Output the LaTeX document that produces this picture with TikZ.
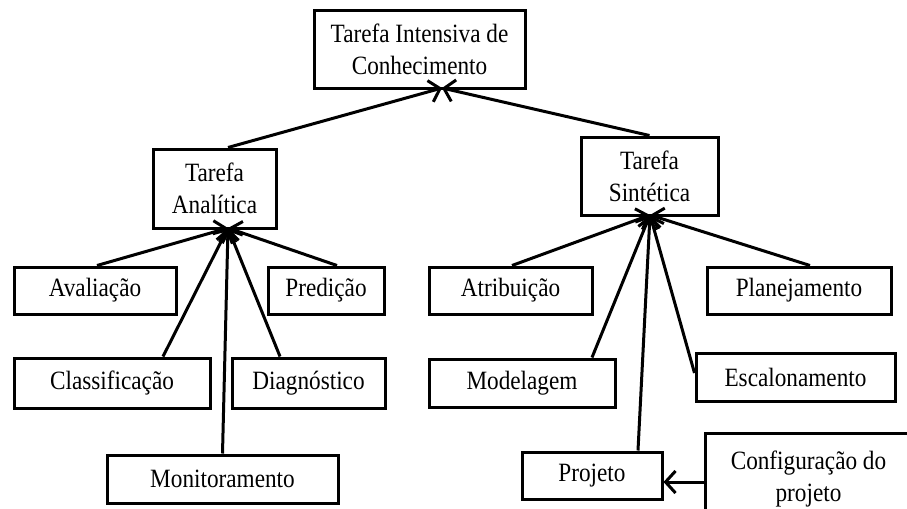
\documentclass[tikz,border=0pt]{standalone}
\usepackage{fontspec}
\setmainfont[FakeStretch=0.88]{Liberation Serif}
\usetikzlibrary{arrows.meta}
\begin{document}
\begin{tikzpicture}[x=0.5pt,y=-0.5pt,
    box/.style={draw, line width=1.5pt, inner sep=0pt, align=center,
      font=\fontsize{13.2}{16}\selectfont},
    arr/.style={line width=1.5pt, -{Straight Barb[length=5pt,width=11pt]}}]
    \clip (0,0) rectangle (907,509);
    %Top
    \node[box, minimum width=105.5pt, minimum height=39pt] (tarefa) at (419.5,49) {Tarefa Intensiva de\\Conhecimento};
    \coordinate (tarefaIn) at (442,88);
    %Analytic
    \node[box, minimum width=61.5pt, minimum height=39.5pt] (analitica) at (214.5,188.5) {Tarefa\\Analítica};
    \coordinate (analiticaIn) at (228,228);
    \node[box, minimum width=81pt, minimum height=23.5pt] (avaliacao) at (95,290.5) {Avaliação};
    \node[box, minimum width=58pt, minimum height=23.5pt] (predicao) at (326,290.5) {Predição};
    \node[box, minimum width=98pt, minimum height=25pt] (classificacao) at (112,383) {Classificação};
    \node[box, minimum width=76.5pt, minimum height=25pt] (diagnostico) at (308.5,383) {Diagnóstico};
    \node[box, minimum width=115.5pt, minimum height=24pt] (monitoramento) at (222.5,479) {Monitoramento};
    %Synthetic
    \node[box, minimum width=68.5pt, minimum height=39pt] (sintetica) at (649.5,176) {Tarefa\\Sintética};
    \coordinate (sinteticaIn) at (650,215);
    \node[box, minimum width=81.5pt, minimum height=23.5pt] (atribuicao) at (510.5,290.5) {Atribuição};
    \node[box, minimum width=92pt, minimum height=23.5pt] (planejamento) at (799,290.5) {Planejamento};
    \node[box, minimum width=93pt, minimum height=24pt] (modelagem) at (522,383) {Modelagem};
    \node[box, minimum width=99.5pt, minimum height=24pt] (escalonamento) at (795.5,377) {Escalonamento};
    \node[box, minimum width=70pt, minimum height=23.5pt] (projeto) at (592,475.5) {Projeto};
    \node[box, minimum width=103.5pt, minimum height=46pt] (configuracao) at (808.5,479) {Configuração do\\projeto};
    %Arrows to top
    \draw[arr] (analitica.north -| 228,0) -- (tarefaIn);
    \draw[arr] (sintetica.north) -- (tarefaIn);
    %Arrows to analytic
    \draw[arr] (avaliacao.north -| 97,0) -- (analiticaIn);
    \draw[arr] (predicao.north -| 337,0) -- (analiticaIn);
    \draw[arr] (classificacao.north -| 163,0) -- (analiticaIn);
    \draw[arr] (diagnostico.north -| 280,0) -- (analiticaIn);
    \draw[arr] (monitoramento.north) -- (analiticaIn);
    %Arrows to synthetic
    \draw[arr] (atribuicao.north -| 512,0) -- (sinteticaIn);
    \draw[arr] (planejamento.north -| 810,0) -- (sinteticaIn);
    \draw[arr] (modelagem.north -| 592,0) -- (sinteticaIn);
    \draw[arr] (escalonamento.west |- 0,373) -- (sinteticaIn);
    \draw[arr] (projeto.north -| 638,0) -- (sinteticaIn);
    %Configuration
    \draw[arr] (configuracao.west |- 0,482) -- (configuracao.west |- 0,482 -| projeto.east);
\end{tikzpicture}
\end{document}
